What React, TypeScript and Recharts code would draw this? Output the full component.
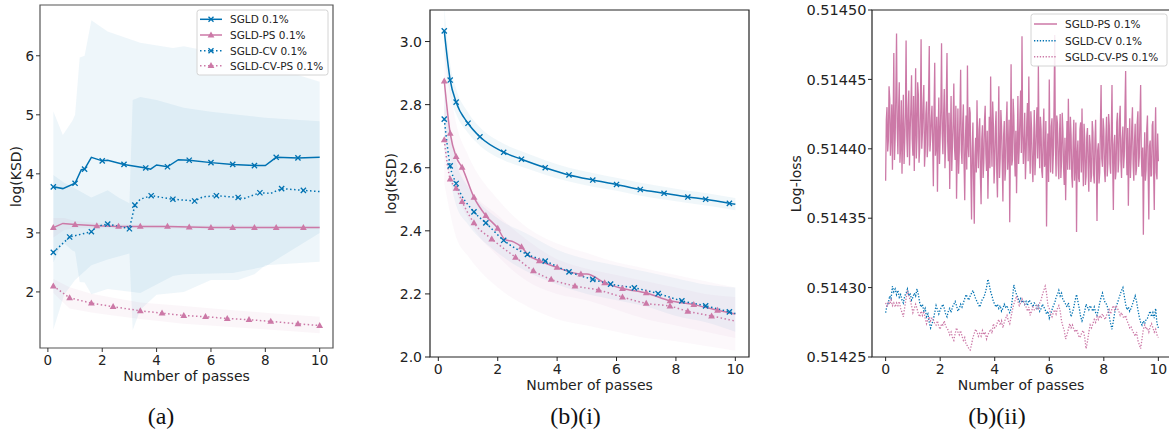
import React from 'react';
import { ComposedChart, Line, Area, XAxis, YAxis, ReferenceArea } from 'recharts';

const BLUE = '#0072B2';
const PINK = '#CC79A7';
const FONT = '"DejaVu Sans", sans-serif';

// ---------- panel (a): log(KSD) vs number of passes ----------
const passesA_sgld = [0.2, 0.55, 1.0, 1.23, 1.35, 1.6, 2.0, 2.2, 2.8, 3.6, 3.78, 4.0, 4.4, 4.8, 5.2, 6.0, 6.8, 7.6, 8.0, 8.4, 9.2, 10];
const ksdA_sgld = [3.78, 3.75, 3.84, 4.07, 4.08, 4.28, 4.22, 4.23, 4.16, 4.1, 4.08, 4.15, 4.12, 4.24, 4.23, 4.19, 4.16, 4.14, 4.14, 4.28, 4.27, 4.28];
const marksA_sgld = [0.2, 1.0, 1.35, 2.0, 2.8, 3.6, 4.4, 5.2, 6.0, 6.8, 7.6, 8.4, 9.2];

const passesA_ps = [0.2, 0.55, 1.0, 1.8, 2.6, 3.4, 4.4, 5.2, 6.0, 6.8, 7.6, 8.4, 9.4, 10];
const ksdA_ps = [3.09, 3.16, 3.14, 3.12, 3.11, 3.11, 3.11, 3.1, 3.09, 3.09, 3.09, 3.09, 3.09, 3.09];
const marksA_ps = [0.2, 1.0, 1.8, 2.6, 3.4, 4.4, 5.2, 6.0, 6.8, 7.6, 8.4, 9.4];

const passesA_cv = [0.2, 0.8, 1.6, 1.8, 2.2, 2.6, 3.0, 3.2, 3.4, 3.8, 4.6, 5.4, 5.7, 6.2, 7.0, 7.2, 7.8, 8.2, 8.6, 9.4, 10];
const ksdA_cv = [2.67, 2.93, 3.02, 3.11, 3.15, 3.11, 3.07, 3.47, 3.57, 3.63, 3.57, 3.54, 3.61, 3.63, 3.6, 3.58, 3.68, 3.67, 3.75, 3.72, 3.7];
const marksA_cv = [0.2, 0.8, 1.6, 2.2, 3.0, 3.2, 3.8, 4.6, 5.4, 6.2, 7.0, 7.8, 8.6, 9.4];

const passesA_cvps = [0.2, 0.8, 1.6, 2.4, 3.4, 4.2, 5.0, 5.8, 6.6, 7.4, 8.2, 9.2, 10];
const ksdA_cvps = [2.1, 1.9, 1.81, 1.75, 1.68, 1.64, 1.6, 1.58, 1.55, 1.53, 1.5, 1.46, 1.43];

const bandA_sgld_x = [0.2, 0.55, 0.9, 1.0, 1.17, 1.35, 1.6, 2.2, 3.4, 4.6, 5.0, 6.8, 8.0, 10];
const bandA_sgld_hi = [5.06, 4.66, 4.9, 5.0, 5.97, 6.0, 6.6, 6.41, 6.22, 6.13, 6.16, 6.0, 5.85, 5.56];
const bandA_sgld_lo = [2.5, 2.84, 2.7, 2.68, 2.17, 2.16, 1.96, 2.05, 1.98, 2.27, 2.3, 2.32, 2.43, 3.0];

const bandA_cv_x = [0.2, 0.6, 1.0, 1.6, 2.2, 2.6, 3.0, 3.12, 3.4, 4.0, 5.0, 6.0, 7.0, 7.6, 8.0, 10];
const bandA_cv_hi = [3.98, 3.85, 3.75, 3.6, 3.72, 3.6, 3.5, 5.25, 5.3, 5.25, 5.12, 5.05, 5.0, 4.97, 4.95, 4.89];
const bandA_cv_lo = [1.36, 1.95, 2.2, 2.45, 2.55, 2.6, 2.65, 1.35, 1.7, 1.95, 2.0, 2.2, 2.2, 2.3, 2.45, 2.51];

const bandA_ps_x = [0.2, 0.6, 1.0, 2.0, 3.0, 5.0, 10];
const bandA_ps_hi = [3.25, 3.25, 3.2, 3.16, 3.14, 3.13, 3.12];
const bandA_ps_lo = [2.92, 3.05, 3.08, 3.08, 3.08, 3.07, 3.06];

const bandA_cvps_x = [0.2, 0.8, 1.6, 2.4, 3.4, 5.0, 6.6, 8.2, 10];
const bandA_cvps_hi = [2.22, 2.08, 1.97, 1.9, 1.82, 1.76, 1.7, 1.64, 1.58];
const bandA_cvps_lo = [1.98, 1.72, 1.65, 1.6, 1.54, 1.46, 1.41, 1.36, 1.3];

// ---------- panel (b)(i) ----------
const passesB_sgld = [0.2, 0.4, 0.6, 1.0, 1.4, 2.2, 2.8, 3.6, 4.4, 5.2, 6.0, 6.8, 7.6, 8.4, 9.0, 9.8, 10];
const ksdB_sgld = [3.034, 2.878, 2.808, 2.741, 2.698, 2.649, 2.627, 2.6, 2.577, 2.561, 2.547, 2.531, 2.519, 2.507, 2.5, 2.487, 2.484];
const ksdB_sgld_hi = [3.11, 2.93, 2.85, 2.775, 2.728, 2.676, 2.652, 2.624, 2.6, 2.583, 2.568, 2.552, 2.54, 2.527, 2.52, 2.507, 2.504];
const ksdB_sgld_lo = [2.96, 2.83, 2.77, 2.71, 2.67, 2.624, 2.603, 2.578, 2.556, 2.54, 2.527, 2.511, 2.499, 2.488, 2.48, 2.468, 2.465];
const marksB_sgld = [0.2, 0.4, 0.6, 1.0, 1.4, 2.2, 2.8, 3.6, 4.4, 5.2, 6.0, 6.8, 7.6, 8.4, 9.0, 9.8];

const passesB_ps = [0.2, 0.4, 0.6, 0.8, 1.2, 1.6, 2.0, 2.24, 2.53, 2.8, 3.03, 3.4, 4.0, 4.8, 5.0, 5.6, 6.2, 7.0, 7.8, 8.6, 9.4, 10];
const ksdB_ps = [2.875, 2.709, 2.635, 2.601, 2.506, 2.448, 2.408, 2.373, 2.365, 2.349, 2.323, 2.305, 2.284, 2.263, 2.263, 2.235, 2.217, 2.203, 2.178, 2.166, 2.148, 2.136];
const marksB_ps = [0.2, 0.4, 0.6, 0.8, 1.2, 1.6, 2.0, 2.8, 3.4, 4.0, 4.8, 5.6, 6.2, 7.0, 7.8, 8.6, 9.4];

const passesB_cv = [0.2, 0.4, 0.6, 1.2, 1.6, 2.2, 3.0, 3.6, 4.4, 5.2, 5.8, 6.6, 7.4, 8.2, 9.0, 9.8, 10];
const ksdB_cv = [2.754, 2.606, 2.55, 2.46, 2.425, 2.37, 2.325, 2.304, 2.27, 2.246, 2.231, 2.219, 2.201, 2.178, 2.162, 2.143, 2.138];
const marksB_cv = [0.2, 0.4, 0.6, 1.2, 1.6, 2.2, 3.0, 3.6, 4.4, 5.2, 5.8, 6.6, 7.4, 8.2, 9.0, 9.8];

const passesB_cvps = [0.2, 0.4, 0.6, 0.8, 1.2, 1.8, 2.6, 3.2, 3.8, 4.6, 5.4, 6.2, 7.0, 7.8, 8.4, 9.2, 10];
const ksdB_cvps = [2.688, 2.564, 2.535, 2.493, 2.425, 2.374, 2.316, 2.273, 2.246, 2.225, 2.212, 2.19, 2.17, 2.161, 2.145, 2.13, 2.114];
const marksB_cvps = [0.2, 0.4, 0.6, 0.8, 1.2, 1.8, 2.6, 3.2, 3.8, 4.6, 5.4, 6.2, 7.0, 7.8, 8.4, 9.2];

const bandB_x = [0.2, 0.6, 1.0, 2.0, 3.0, 4.0, 5.0, 6.0, 7.0, 8.0, 9.0, 10];
const bandB_ps_hi = [2.98, 2.74, 2.64, 2.5, 2.41, 2.36, 2.33, 2.3, 2.28, 2.26, 2.24, 2.22];
const bandB_ps_lo = [2.77, 2.53, 2.44, 2.32, 2.24, 2.2, 2.18, 2.15, 2.12, 2.1, 2.08, 2.06];
const bandB_cv_hi = [2.85, 2.62, 2.54, 2.44, 2.39, 2.34, 2.31, 2.29, 2.27, 2.25, 2.23, 2.22];
const bandB_cv_lo = [2.66, 2.48, 2.42, 2.33, 2.27, 2.23, 2.2, 2.18, 2.16, 2.13, 2.11, 2.08];
const bandB_cvps_hi = [2.8, 2.65, 2.55, 2.45, 2.37, 2.31, 2.28, 2.26, 2.24, 2.22, 2.2, 2.19];
const bandB_cvps_lo = [2.55, 2.38, 2.32, 2.22, 2.16, 2.12, 2.1, 2.08, 2.06, 2.05, 2.035, 2.02];

// ---------- panel (b)(ii): log-loss, in units of 1e-5 above 0.514 ----------
// SGLD-PS sampled every 0.025 passes
const lossPS = [
  37.7, 42.1, 43.0, 39.8, 40.6, 44.5, 43.6, 39.5, 41.0, 43.2, 38.5, 42.0, 46.9, 39.2, 40.8, 44.0, 48.3, 41.5, 39.6, 42.8,
  44.8, 39.0, 40.2, 43.5, 38.2, 41.2, 43.9, 38.9, 40.5, 42.6, 47.8, 40.9, 39.4, 42.9, 44.2, 38.8, 41.3, 43.0, 45.3, 40.7,
  39.5, 43.8, 38.4, 41.6, 45.8, 39.3, 40.9, 44.8, 43.9, 39.0, 40.1, 42.7, 47.9, 40.0, 41.2, 43.3, 44.6, 38.7, 39.8, 42.5,
  43.4, 39.4, 40.3, 43.9, 47.4, 39.8, 40.7, 42.2, 43.1, 40.4, 37.3, 42.8, 46.2, 39.5, 40.2, 42.3, 36.9, 41.0, 43.7, 38.9,
  40.8, 43.0, 47.6, 41.1, 39.6, 42.4, 44.3, 38.6, 40.4, 43.7, 46.9, 40.5, 39.1, 42.6, 37.1, 40.9, 43.8, 38.4, 40.3, 42.0,
  44.7, 40.1, 39.2, 43.1, 36.4, 39.7, 42.9, 38.2, 39.8, 42.5, 45.7, 39.9, 38.9, 41.8, 43.2, 39.0, 36.3, 40.6, 42.4, 38.5,
  46.0, 40.3, 39.4, 43.0, 42.6, 38.1, 34.9, 40.0, 41.9, 37.8, 34.6, 39.5, 40.8, 38.3, 43.5, 40.2, 38.6, 41.4, 42.2, 38.0,
  36.0, 40.7, 41.7, 37.9, 39.0, 42.0, 43.1, 39.6, 38.4, 41.3, 36.4, 39.1, 42.3, 38.6, 45.2, 40.8, 38.7, 43.4, 41.8, 37.5,
  38.9, 41.5, 42.7, 38.3, 36.5, 40.4, 44.5, 37.9, 39.3, 42.8, 41.6, 39.0, 36.2, 40.9, 42.0, 37.7, 38.6, 41.8, 43.4, 38.5,
  39.7, 42.1, 34.7, 40.2, 46.1, 38.8, 39.2, 43.6, 42.4, 39.6, 38.0, 41.3, 36.8, 40.0, 43.8, 38.9, 40.1, 42.5, 44.2, 39.7,
  48.1, 41.0, 38.9, 40.7, 42.6, 37.8, 39.4, 41.9, 43.3, 39.1, 45.2, 40.5, 38.2, 42.7, 41.5, 38.8, 37.6, 40.3, 42.8, 38.1,
  39.5, 41.7, 43.0, 39.3, 46.0, 40.6, 38.6, 42.3, 41.4, 38.4, 37.9, 41.2, 42.9, 38.7, 39.0, 42.0, 34.4, 39.2, 41.1, 37.6,
  45.0, 39.8, 38.3, 41.6, 42.2, 38.2, 39.6, 43.1, 48.2, 40.1, 38.0, 42.4, 41.8, 38.9, 37.8, 41.1, 42.5, 37.9, 39.1, 42.6,
  41.3, 38.6, 37.4, 40.8, 36.3, 39.4, 42.0, 38.5, 43.6, 40.2, 38.5, 42.3, 41.0, 38.0, 37.2, 40.5, 42.1, 37.7, 38.8, 41.9,
  34.0, 39.6, 40.6, 37.9, 37.6, 41.4, 41.9, 38.3, 42.9, 39.5, 37.3, 41.8, 40.7, 37.4, 38.0, 40.9, 41.5, 38.6, 36.9, 41.0,
  40.3, 37.6, 38.1, 42.0, 41.2, 38.2, 37.5, 40.6, 42.1, 38.8, 34.8, 39.9, 40.4, 37.5, 38.3, 41.7, 44.6, 39.3, 38.7, 42.2,
  41.4, 38.4, 37.6, 40.8, 42.3, 38.0, 39.0, 42.5, 41.7, 38.9, 38.2, 41.2, 44.6, 39.0, 35.6, 40.3, 41.0, 37.8, 38.4, 41.9,
  42.6, 38.3, 39.2, 42.1, 43.1, 39.1, 37.9, 40.7, 41.6, 38.6, 39.5, 42.8, 45.6, 40.0, 38.1, 41.5, 35.9, 39.7, 42.2, 37.9,
  39.3, 41.6, 43.0, 38.9, 37.7, 40.5, 41.8, 38.1, 38.6, 41.9, 42.7, 38.7, 39.4, 42.2, 44.6, 39.5, 38.0, 40.1, 33.8, 39.0,
  41.2, 37.7, 38.5, 41.4, 42.4, 38.4, 34.9, 40.2, 40.6, 38.0, 38.1, 41.7, 42.0, 38.6, 35.6, 40.4, 43.0, 38.3, 37.8, 41.1,
  39.1,
];
// SGLD-CV and SGLD-CV-PS sampled every 0.05 passes
const lossCV = [
  28.2, 28.7, 28.9, 29.4, 29.2, 30.1, 29.7, 29.9, 29.5, 29.8, 29.3, 29.5, 29.1, 28.9, 29.4, 29.6, 29.9, 29.4, 29.6, 29.1,
  29.3, 29.6, 29.4, 29.9, 29.5, 28.9, 28.6, 28.8, 28.3, 28.5, 27.9, 28.1, 27.5, 27.1, 27.4, 27.7, 28.2, 28.7, 28.4, 28.1,
  28.4, 28.6, 28.8, 28.5, 28.1, 27.9, 28.3, 28.5, 28.2, 28.6, 28.8, 29.0, 28.7, 28.3, 28.5, 28.8, 28.6, 28.9, 29.2, 29.5,
  29.3, 29.1, 29.4, 29.6, 29.8, 29.5, 29.2, 29.0, 28.8, 28.6, 28.9, 29.2, 29.3, 29.6, 30.0, 30.6, 30.2, 29.7, 29.4, 29.0,
  28.8, 28.6, 28.8, 28.5, 28.7, 28.3, 28.5, 28.8, 28.6, 28.7, 28.4, 28.2, 28.5, 29.2, 30.2, 29.8, 29.5, 29.3, 29.0, 29.2,
  28.9, 29.1, 28.8, 29.0, 28.7, 29.1, 29.0, 28.8, 28.6, 28.9, 28.8, 28.5, 28.7, 28.3, 28.5, 28.8, 28.6, 28.4, 28.1, 28.3,
  27.8, 28.1, 28.4, 28.7, 28.9, 29.3, 29.5, 29.8, 29.4, 29.6, 29.1, 29.0, 28.8, 28.6, 28.9, 28.4, 27.9, 28.2, 28.6, 29.1,
  29.5, 29.0, 28.5, 27.9, 27.6, 27.9, 28.3, 28.8, 28.6, 28.4, 28.7, 28.5, 28.3, 28.6, 28.2, 28.0, 28.4, 28.9, 29.3, 29.6,
  29.2, 28.9, 28.8, 28.5, 27.9, 27.4, 27.0, 27.6, 28.2, 28.6, 28.9, 29.2, 29.5, 29.8, 30.0, 29.4, 28.8, 28.4, 28.6, 28.3,
  28.5, 28.8, 29.1, 29.4, 29.0, 28.4, 27.9, 27.5, 27.3, 27.6, 27.4, 27.7, 27.8, 28.1, 28.3, 27.9, 28.2, 27.8, 28.5, 27.4,
  27.1,
];
const lossCVPS = [
  28.9, 28.6, 29.0, 28.8, 29.1, 28.7, 28.9, 28.6, 28.9, 28.7, 29.0, 28.5, 28.2, 27.9, 28.6, 29.2, 29.8, 29.4, 29.1, 28.7,
  28.2, 28.5, 28.8, 28.5, 28.1, 27.9, 28.3, 28.0, 28.3, 27.8, 27.4, 27.7, 27.9, 27.6, 27.8, 27.7, 27.4, 27.3, 27.6, 27.2,
  27.0, 27.4, 27.3, 27.6, 27.2, 27.1, 26.9, 26.6, 26.8, 26.4, 26.2, 26.7, 27.1, 26.8, 26.6, 26.9, 26.5, 26.2, 26.4, 25.9,
  25.8, 25.6, 25.5, 25.9, 26.4, 26.7, 27.0, 26.8, 26.5, 26.7, 26.5, 26.9, 26.6, 26.8, 26.3, 26.6, 26.8, 27.0, 26.7, 27.4,
  27.1, 27.2, 27.5, 27.7, 27.3, 27.6, 27.1, 27.5, 27.8, 28.0, 27.6, 27.4, 27.9, 28.4, 28.8, 29.1, 29.4, 29.0, 28.7, 28.9,
  29.2, 29.0, 28.8, 28.6, 28.3, 28.6, 28.0, 28.3, 28.6, 28.4, 28.4, 28.7, 28.5, 28.9, 29.1, 29.5, 29.8, 30.1, 29.6, 28.7,
  28.5, 28.1, 27.9, 28.2, 28.4, 28.1, 28.5, 28.7, 28.3, 27.6, 27.2, 26.9, 26.3, 26.6, 27.0, 27.4, 27.1, 27.3, 27.0, 26.8,
  27.0, 26.7, 26.4, 26.5, 26.8, 26.9, 26.4, 25.6, 26.1, 26.8, 27.3, 27.1, 27.4, 27.7, 27.5, 27.9, 27.7, 28.0, 27.8, 28.1,
  27.9, 27.7, 28.0, 28.2, 28.4, 28.1, 28.5, 28.7, 28.4, 28.7, 28.5, 28.3, 28.0, 28.2, 27.9, 27.8, 28.0, 27.6, 27.4, 27.1,
  27.2, 26.9, 26.7, 26.5, 26.8, 26.2, 25.9, 25.6, 26.3, 27.0, 27.3, 27.0, 27.1, 26.8, 27.2, 27.4, 27.1, 26.8, 27.0, 26.6,
  26.4,
];
const passesPS = lossPS.map((_, i) => i / 40);
const passesCV = lossCV.map((_, i) => i / 20);

const ticksX = [0, 2, 4, 6, 8, 10];
const ticksA = [2, 3, 4, 5, 6];
const ticksB = [2.0, 2.2, 2.4, 2.6, 2.8, 3.0];
const ticksLoss = [25, 30, 35, 40, 45, 50];

const rows = (xs: number[], ys: number[]) => xs.map((x, i) => ({ x, y: ys[i] }));
const bandRows = (xs: number[], lo: number[], hi: number[]) => xs.map((x, i) => ({ x, band: [lo[i], hi[i]] }));

function markerDot(kind: 'x' | 'tri', color: string, marks: number[]) {
  return (props: any) => {
    const { cx, cy, payload, index } = props;
    if (cx == null || cy == null || !marks.includes(payload.x)) return <g key={index} />;
    if (kind === 'x') {
      const s = 2.6;
      return (
        <path key={index} d={`M${cx - s},${cy - s}L${cx + s},${cy + s}M${cx - s},${cy + s}L${cx + s},${cy - s}`}
          stroke={color} strokeWidth={1.3} fill="none" />
      );
    }
    return <path key={index} d={`M${cx},${cy - 3.6}L${cx + 3.4},${cy + 2.4}L${cx - 3.4},${cy + 2.4}Z`} fill={color} />;
  };
}

const xTick = (size: number) => (p: any) => (
  <text x={p.x} y={p.y} dy="0.71em" textAnchor="middle" fill="#222" style={{ fontSize: size, fontFamily: FONT }}>
    {p.payload.value}
  </text>
);
const yTick = (size: number, fmt: (v: number) => string) => (p: any) => (
  <text x={p.x} y={p.y} dy="0.36em" textAnchor="end" fill="#222" style={{ fontSize: size, fontFamily: FONT }}>
    {fmt(p.payload.value)}
  </text>
);

const DOT = '1.5 2.5';
const DOT_FINE = '1.3 1.6';

function PanelA() {
  const dx: [number, number] = [-0.29, 10.49];
  const dy: [number, number] = [1.05, 6.86];
  return (
    <ComposedChart width={340} height={388} margin={{ top: 5, right: 7, bottom: 0, left: 0 }}>
      <XAxis dataKey="x" type="number" domain={dx} ticks={ticksX} allowDataOverflow height={40}
        tick={xTick(13.5)} tickSize={4} tickMargin={3.5} tickLine={{ stroke: '#333' }} axisLine={false} />
      <YAxis type="number" domain={dy} ticks={ticksA} allowDataOverflow width={40}
        tick={yTick(13.5, (v) => String(v))} tickSize={4} tickMargin={2} tickLine={{ stroke: '#333' }} axisLine={false} />
      <Area data={bandRows(bandA_sgld_x, bandA_sgld_lo, bandA_sgld_hi)} dataKey="band" type="linear" stroke="none" fill={BLUE} fillOpacity={0.065} isAnimationActive={false} activeDot={false} />
      <Area data={bandRows(bandA_cv_x, bandA_cv_lo, bandA_cv_hi)} dataKey="band" type="linear" stroke="none" fill={BLUE} fillOpacity={0.065} isAnimationActive={false} activeDot={false} />
      <Area data={bandRows(bandA_ps_x, bandA_ps_lo, bandA_ps_hi)} dataKey="band" type="linear" stroke="none" fill={PINK} fillOpacity={0.07} isAnimationActive={false} activeDot={false} />
      <Area data={bandRows(bandA_cvps_x, bandA_cvps_lo, bandA_cvps_hi)} dataKey="band" type="linear" stroke="none" fill={PINK} fillOpacity={0.07} isAnimationActive={false} activeDot={false} />
      <Line data={rows(passesA_sgld, ksdA_sgld)} dataKey="y" type="linear" stroke={BLUE} strokeWidth={1.5} dot={markerDot('x', BLUE, marksA_sgld)} activeDot={false} isAnimationActive={false} />
      <Line data={rows(passesA_ps, ksdA_ps)} dataKey="y" type="linear" stroke={PINK} strokeWidth={1.5} dot={markerDot('tri', PINK, marksA_ps)} activeDot={false} isAnimationActive={false} />
      <Line data={rows(passesA_cv, ksdA_cv)} dataKey="y" type="linear" stroke={BLUE} strokeWidth={1.5} strokeDasharray={DOT} dot={markerDot('x', BLUE, marksA_cv)} activeDot={false} isAnimationActive={false} />
      <Line data={rows(passesA_cvps, ksdA_cvps)} dataKey="y" type="linear" stroke={PINK} strokeWidth={1.5} strokeDasharray={DOT} dot={markerDot('tri', PINK, passesA_cvps)} activeDot={false} isAnimationActive={false} />
      <ReferenceArea x1={dx[0]} x2={dx[1]} y1={dy[0]} y2={dy[1]} fill="none" stroke="#555" strokeWidth={1.2} />
    </ComposedChart>
  );
}

function PanelB1() {
  const dx: [number, number] = [-0.28, 10.46];
  const dy: [number, number] = [2.0, 3.1];
  return (
    <ComposedChart width={380} height={397} margin={{ top: 10, right: 11, bottom: 0, left: 0 }}>
      <XAxis dataKey="x" type="number" domain={dx} ticks={ticksX} allowDataOverflow height={40}
        tick={xTick(14)} tickSize={4} tickMargin={3.5} tickLine={{ stroke: '#222' }} axisLine={false} />
      <YAxis type="number" domain={dy} ticks={ticksB} allowDataOverflow width={50}
        tick={yTick(14, (v) => v.toFixed(1))} tickSize={5} tickMargin={3} tickLine={{ stroke: '#222' }} axisLine={false} />
      <Area data={bandRows(passesB_sgld, ksdB_sgld_lo, ksdB_sgld_hi)} dataKey="band" type="monotone" stroke="none" fill={BLUE} fillOpacity={0.06} isAnimationActive={false} activeDot={false} />
      <Area data={bandRows(bandB_x, bandB_ps_lo, bandB_ps_hi)} dataKey="band" type="monotone" stroke="none" fill={PINK} fillOpacity={0.05} isAnimationActive={false} activeDot={false} />
      <Area data={bandRows(bandB_x, bandB_cv_lo, bandB_cv_hi)} dataKey="band" type="monotone" stroke="none" fill={BLUE} fillOpacity={0.05} isAnimationActive={false} activeDot={false} />
      <Area data={bandRows(bandB_x, bandB_cvps_lo, bandB_cvps_hi)} dataKey="band" type="monotone" stroke="none" fill={PINK} fillOpacity={0.05} isAnimationActive={false} activeDot={false} />
      <Line data={rows(passesB_sgld, ksdB_sgld)} dataKey="y" type="monotone" stroke={BLUE} strokeWidth={1.5} dot={markerDot('x', BLUE, marksB_sgld)} activeDot={false} isAnimationActive={false} />
      <Line data={rows(passesB_ps, ksdB_ps)} dataKey="y" type="monotone" stroke={PINK} strokeWidth={1.5} dot={markerDot('tri', PINK, marksB_ps)} activeDot={false} isAnimationActive={false} />
      <Line data={rows(passesB_cv, ksdB_cv)} dataKey="y" type="monotone" stroke={BLUE} strokeWidth={1.5} strokeDasharray={DOT} dot={markerDot('x', BLUE, marksB_cv)} activeDot={false} isAnimationActive={false} />
      <Line data={rows(passesB_cvps, ksdB_cvps)} dataKey="y" type="monotone" stroke={PINK} strokeWidth={1.5} strokeDasharray={DOT} dot={markerDot('tri', PINK, marksB_cvps)} activeDot={false} isAnimationActive={false} />
      <ReferenceArea x1={dx[0]} x2={dx[1]} y1={dy[0]} y2={dy[1]} fill="none" stroke="#222" strokeWidth={1.2} />
    </ComposedChart>
  );
}

function PanelB2() {
  const dx: [number, number] = [-0.5, 10.5];
  const dy: [number, number] = [25, 50];
  return (
    <ComposedChart width={392} height={397} margin={{ top: 10, right: 0, bottom: 0, left: 0 }}>
      <XAxis dataKey="x" type="number" domain={dx} ticks={ticksX} allowDataOverflow height={40}
        tick={xTick(14)} tickSize={4} tickMargin={3.5} tickLine={{ stroke: '#222' }} axisLine={false} />
      <YAxis type="number" domain={dy} ticks={ticksLoss} allowDataOverflow width={92}
        tick={yTick(14.5, (v) => (0.514 + v / 1e5).toFixed(5))} tickSize={4} tickMargin={1.5} tickLine={{ stroke: '#222' }} axisLine={false} />
      <Line data={rows(passesPS, lossPS)} dataKey="y" type="linear" stroke={PINK} strokeWidth={1.3} dot={false} activeDot={false} isAnimationActive={false} />
      <Line data={rows(passesCV, lossCV)} dataKey="y" type="linear" stroke={BLUE} strokeWidth={1.3} strokeDasharray={DOT_FINE} dot={false} activeDot={false} isAnimationActive={false} />
      <Line data={rows(passesCV, lossCVPS)} dataKey="y" type="linear" stroke={PINK} strokeWidth={1.3} strokeDasharray={DOT_FINE} dot={false} activeDot={false} isAnimationActive={false} />
      <ReferenceArea x1={dx[0]} x2={dx[1]} y1={dy[0]} y2={dy[1]} fill="none" stroke="#222" strokeWidth={1.2} />
    </ComposedChart>
  );
}

type LegendItem = { label: string; color: string; dash?: string; marker?: 'x' | 'tri' };

function LegendBox({ x, y, w, h, items, rowY, lineX, textX }: {
  x: number; y: number; w: number; h: number; items: LegendItem[]; rowY: number[]; lineX: [number, number]; textX: number;
}) {
  return (
    <g>
      <rect x={x} y={y} width={w} height={h} rx={2.5} fill="#fff" fillOpacity={0.85} stroke="#d4d4d4" />
      {items.map((it, i) => {
        const cy = rowY[i];
        const mx = (lineX[0] + lineX[1]) / 2;
        return (
          <g key={it.label}>
            <line x1={lineX[0]} x2={lineX[1]} y1={cy} y2={cy} stroke={it.color} strokeWidth={1.5} strokeDasharray={it.dash} />
            {it.marker === 'x' && (
              <path d={`M${mx - 2.5},${cy - 2.5}L${mx + 2.5},${cy + 2.5}M${mx - 2.5},${cy + 2.5}L${mx + 2.5},${cy - 2.5}`} stroke={it.color} strokeWidth={1.3} />
            )}
            {it.marker === 'tri' && <path d={`M${mx},${cy - 3.6}L${mx + 3.4},${cy + 2.4}L${mx - 3.4},${cy + 2.4}Z`} fill={it.color} />}
            <text x={textX} y={cy + 3.8} fill="#222" style={{ fontSize: 10.5, fontFamily: FONT }}>{it.label}</text>
          </g>
        );
      })}
    </g>
  );
}

const legendA: LegendItem[] = [
  { label: 'SGLD 0.1%', color: BLUE, marker: 'x' },
  { label: 'SGLD-PS 0.1%', color: PINK, marker: 'tri' },
  { label: 'SGLD-CV 0.1%', color: BLUE, dash: DOT, marker: 'x' },
  { label: 'SGLD-CV-PS 0.1%', color: PINK, dash: DOT, marker: 'tri' },
];
const legendB2: LegendItem[] = [
  { label: 'SGLD-PS 0.1%', color: PINK },
  { label: 'SGLD-CV 0.1%', color: BLUE, dash: DOT_FINE },
  { label: 'SGLD-CV-PS 0.1%', color: PINK, dash: DOT_FINE },
];

function Overlay() {
  const title = { fill: '#222', textAnchor: 'middle' as const, style: { fontSize: 14, fontFamily: FONT } };
  const cap = { fill: '#111', textAnchor: 'middle' as const, style: { fontSize: 24, fontFamily: '"Liberation Serif", "DejaVu Serif", serif' } };
  return (
    <svg width={1169} height={435} style={{ position: 'absolute', left: 0, top: 0, pointerEvents: 'none' }}>
      <text x={186.5} y={381} {...title}>Number of passes</text>
      <text x={589.5} y={389.5} {...title}>Number of passes</text>
      <text x={1021} y={389.5} {...title}>Number of passes</text>
      <text transform="translate(20.5,176.5) rotate(-90)" {...title}>log(KSD)</text>
      <text transform="translate(395.5,183.5) rotate(-90)" {...title}>log(KSD)</text>
      <text transform="translate(800.5,183.7) rotate(-90)" {...title}>Log-loss</text>
      <text x={161} y={423.5} {...cap}>(a)</text>
      <text x={575.5} y={423.5} {...cap}>(b)(i)</text>
      <text x={997} y={423.5} {...cap}>(b)(ii)</text>
      <LegendBox x={197} y={10} w={131} h={65} items={legendA} rowY={[19.3, 35, 50.7, 65.7]} lineX={[200, 222]} textX={230} />
      <LegendBox x={1031} y={14} w={136} h={52} items={legendB2} rowY={[24, 40.7, 56.7]} lineX={[1034, 1057]} textX={1065} />
    </svg>
  );
}

export default function App() {
  return (
    <div style={{ position: 'fixed', left: 0, top: 0, width: 1169, height: 435, overflow: 'hidden', background: '#fff' }}>
      <div style={{ position: 'absolute', left: 0, top: 0 }}><PanelA /></div>
      <div style={{ position: 'absolute', left: 380, top: 0 }}><PanelB1 /></div>
      <div style={{ position: 'absolute', left: 780, top: 0 }}><PanelB2 /></div>
      <Overlay />
    </div>
  );
}
